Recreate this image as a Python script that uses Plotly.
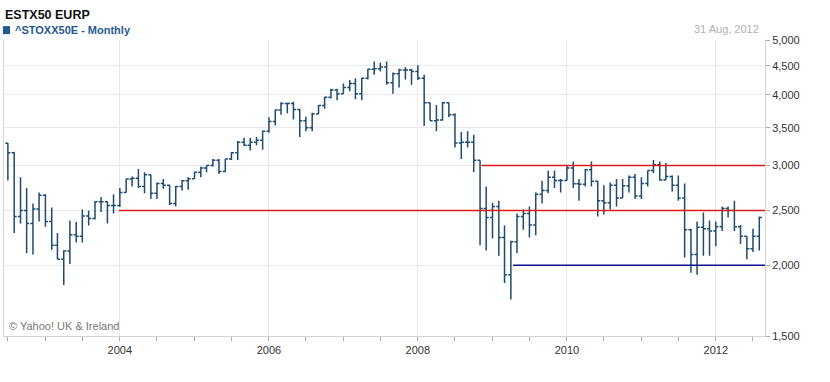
import math
import pandas as pd
import plotly.graph_objects as go

# ---------------- data ----------------
first_month = "2002-07-01"
n_bars = 122
months = pd.date_range(first_month, periods=n_bars, freq="MS")

opens = [3285, 3160, 2440, 2500, 2370, 2515, 2660, 2390, 2170, 2050,
         2120, 2265, 2250, 2445, 2420, 2590, 2590, 2550, 2550, 2690,
         2840, 2850, 2755, 2890, 2680, 2790, 2770, 2570, 2755, 2820,
         2845, 2920, 2970, 3000, 3065, 2930, 3080, 3160, 3300, 3260,
         3300, 3325, 3450, 3590, 3760, 3860, 3860, 3770, 3600, 3500,
         3700, 3830, 3960, 4080, 4020, 4120, 4190, 4020, 4280, 4440,
         4450, 4480, 4200, 4360, 4425, 4425, 4400, 4280, 3875, 3600,
         3610, 3875, 3690, 3290, 3300, 3300, 3065, 2520, 2430, 2540,
         2240, 1925, 2200, 2440, 2470, 2355, 2670, 2710, 2860, 2824,
         2824, 2970, 2785, 2780, 2950, 2815, 2600, 2580, 2770, 2630,
         2765, 2860, 2650, 2790, 2940, 3010, 2830, 2870, 2770, 2630,
         2310, 2090, 2335, 2320, 2300, 2340, 2520, 2500, 2340, 2250,
         2140, 2250]

highs = [3290, 3175, 2860, 2740, 2570, 2690, 2670, 2530, 2280, 2125,
         2400, 2385, 2510, 2500, 2595, 2640, 2595, 2670, 2740, 2845,
         2870, 2960, 2920, 2890, 2800, 2840, 2775, 2760, 2830, 2860,
         2930, 2985, 3005, 3080, 3080, 3085, 3170, 3315, 3360, 3360,
         3370, 3460, 3650, 3770, 3880, 3870, 3890, 3780, 3660, 3720,
         3840, 3970, 4100, 4100, 4190, 4250, 4280, 4290, 4450, 4580,
         4560, 4580, 4380, 4450, 4480, 4450, 4510, 4340, 3875, 3840,
         3890, 3880, 3710, 3440, 3450, 3400, 3065, 2755, 2580, 2600,
         2350, 2210, 2470, 2510, 2540, 2690, 2820, 2940, 2940, 2840,
         3000, 3050, 2840, 2960, 3050, 2824, 2770, 2800, 2840, 2840,
         2880, 2900, 2860, 2940, 3070, 3050, 3035, 2880, 2880, 2790,
         2320, 2390, 2480, 2400, 2390, 2540, 2540, 2600, 2355, 2250,
         2320, 2440]

lows = [2824, 2280, 2370, 2100, 2090, 2390, 2340, 2130, 2050, 1845,
        2010, 2195, 2195, 2350, 2410, 2485, 2370, 2470, 2535, 2690,
        2755, 2740, 2680, 2620, 2620, 2730, 2555, 2540, 2710, 2720,
        2845, 2860, 2920, 2990, 2900, 2920, 3070, 3070, 3250, 3190,
        3260, 3200, 3430, 3530, 3690, 3710, 3620, 3370, 3450, 3450,
        3700, 3780, 3940, 3915, 4020, 4060, 3930, 3915, 4260, 4340,
        4400, 4170, 4020, 4120, 4260, 4170, 4250, 3525, 3600, 3450,
        3600, 3650, 3230, 3080, 3230, 2920, 2170, 2123, 2230, 2080,
        1860, 1740, 2100, 2310, 2240, 2260, 2570, 2680, 2740, 2690,
        2824, 2740, 2600, 2755, 2755, 2440, 2460, 2510, 2540, 2630,
        2690, 2620, 2620, 2755, 2910, 2824, 2830, 2700, 2600, 2065,
        1940, 1925, 2080, 2080, 2160, 2300, 2430, 2300, 2180, 2050,
        2110, 2123]

closes = [3160, 2440, 2500, 2370, 2515, 2660, 2390, 2170, 2050, 2120,
          2265, 2250, 2445, 2420, 2590, 2590, 2550, 2550, 2690, 2840,
          2850, 2755, 2890, 2680, 2790, 2770, 2570, 2755, 2820, 2845,
          2920, 2970, 3000, 3065, 2930, 3080, 3160, 3300, 3260, 3300,
          3325, 3450, 3590, 3760, 3860, 3860, 3770, 3600, 3500, 3700,
          3830, 3960, 4080, 4020, 4120, 4190, 4020, 4280, 4440, 4450,
          4480, 4200, 4360, 4425, 4425, 4400, 4280, 3875, 3600, 3610,
          3875, 3690, 3290, 3300, 3300, 3065, 2520, 2430, 2540, 2240,
          1925, 2200, 2440, 2470, 2355, 2670, 2710, 2860, 2824, 2824,
          2970, 2785, 2780, 2950, 2815, 2600, 2580, 2770, 2630, 2765,
          2860, 2650, 2790, 2940, 3010, 2830, 2870, 2770, 2630, 2310,
          2090, 2335, 2320, 2300, 2340, 2520, 2500, 2340, 2250, 2140,
          2250, 2430]

# horizontal level lines (level, start date, colour)
level_values = [3000, 2500, 2000]
level_starts = ["2008-11-08", "2003-12-27", "2009-04-12"]
level_colors = ["#dd1a1a", "#dd1a1a", "#10108f"]

y_tick_values = [1500, 2000, 2500, 3000, 3500, 4000, 4500, 5000]
y_tick_labels = ["1,500", "2,000", "2,500", "3,000", "3,500", "4,000", "4,500", "5,000"]

x_range = ["2002-06-12", "2012-08-29"]
y_range_values = [1500, 5000]

title_text = "ESTX50 EURP"
series_text = "^STOXX50E - Monthly"
date_text = "31 Aug, 2012"
credit_text = "© Yahoo! UK & Ireland"

# ---------------- figure ----------------
bar_color = "#1f4b6e"
font_family = "Liberation Sans, Arial, sans-serif"

fig = go.Figure()
fig.add_trace(go.Ohlc(
    x=months, open=opens, high=highs, low=lows, close=closes,
    increasing=dict(line=dict(color=bar_color, width=1.5)),
    decreasing=dict(line=dict(color=bar_color, width=1.5)),
    tickwidth=0.45, showlegend=False, hoverinfo="skip",
))

for lvl, start, col in zip(level_values, level_starts, level_colors):
    fig.add_trace(go.Scatter(
        x=[start, x_range[1]], y=[lvl, lvl], mode="lines",
        line=dict(color=col, width=1.5), showlegend=False, hoverinfo="skip",
    ))

fig.update_layout(
    width=830, height=382,
    margin=dict(l=4, r=65, t=40, b=46),
    paper_bgcolor="white", plot_bgcolor="white",
    font=dict(family=font_family, size=11, color="#333333"),
    showlegend=False,
    xaxis=dict(
        type="date", range=x_range,
        dtick="M24", tick0="2004-01-01", tickformat="%Y",
        showgrid=True, gridcolor="#e9e9e9", gridwidth=1,
        ticks="outside", ticklen=4, tickcolor="#aaaaaa",
        showline=True, linecolor="#d4d4d4", linewidth=1,
        zeroline=False,
        minor=dict(dtick="M6", tick0="2004-01-01", ticks="outside",
                   ticklen=4, tickcolor="#aaaaaa", showgrid=False),
        rangeslider=dict(visible=False),
        tickfont=dict(size=11, color="#333333", family=font_family),
    ),
    yaxis=dict(
        type="log", side="right",
        range=[math.log10(y_range_values[0]), math.log10(y_range_values[1])],
        tickvals=y_tick_values, ticktext=y_tick_labels,
        showgrid=True, gridcolor="#e9e9e9", gridwidth=1,
        ticks="outside", ticklen=4, tickcolor="#aaaaaa",
        showline=True, mirror=True, linecolor="#d4d4d4", linewidth=1,
        zeroline=False,
        tickfont=dict(size=11, color="#333333", family=font_family),
    ),
)

fig.add_annotation(text="<b>" + title_text + "</b>", xref="paper", yref="paper",
                   x=-0.0015, y=1.0845, xanchor="left", yanchor="middle",
                   showarrow=False, font=dict(size=12.5, color="#111111", family=font_family))
fig.add_shape(type="rect", xref="paper", yref="paper",
              x0=-0.0013, x1=0.0079, y0=1.020, y1=1.047,
              line=dict(width=0), fillcolor="#1f5a93")
fig.add_annotation(text="<b>" + series_text + "</b>", xref="paper", yref="paper",
                   x=0.0115, y=1.034, xanchor="left", yanchor="middle",
                   showarrow=False, font=dict(size=11, color="#1f5a93", family=font_family))
fig.add_annotation(text=date_text, xref="paper", yref="paper",
                   x=0.9947, y=1.036, xanchor="right", yanchor="middle",
                   showarrow=False, font=dict(size=11, color="#b0b0b0", family=font_family))
fig.add_annotation(text=credit_text, xref="paper", yref="paper",
                   x=0.004, y=0.034, xanchor="left", yanchor="middle",
                   showarrow=False, font=dict(size=11, color="#777777", family=font_family))

fig.write_html("out.html", config={"displayModeBar": False},
               post_script="document.body.style.margin='0';")
